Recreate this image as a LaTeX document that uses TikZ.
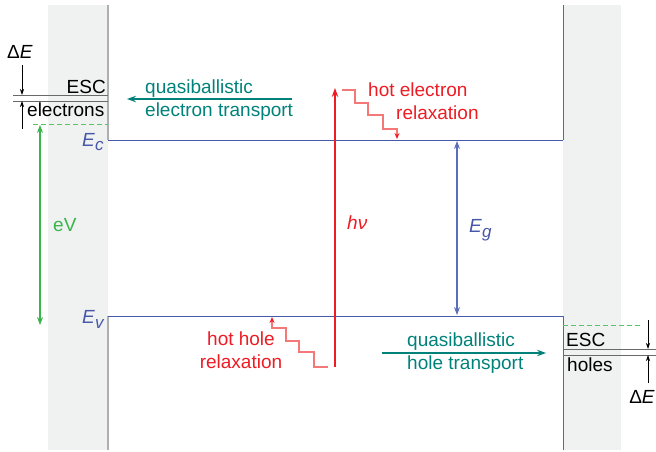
\documentclass[tikz,border=0pt]{standalone}
\usepackage{fontspec}
\setmainfont{Liberation Sans}
\usetikzlibrary{arrows.meta}
\definecolor{contactgray}{RGB}{240,242,242}
\definecolor{edgegray}{RGB}{175,175,175}
\definecolor{edgedark}{RGB}{105,105,105}
\definecolor{bandblue}{RGB}{70,88,168}
\definecolor{egblue}{RGB}{90,110,185}
\definecolor{hotred}{RGB}{237,28,36}
\definecolor{stairred}{RGB}{244,120,120}
\definecolor{transteal}{RGB}{0,130,122}
\definecolor{evgreen}{RGB}{57,181,74}
\definecolor{dashgreen}{RGB}{90,195,105}
\definecolor{escgray}{RGB}{105,105,105}

\newcommand{\lvl}[2]{\textit{#1}\raisebox{-5pt}{\fontsize{17}{17}\selectfont\textit{#2}}}

\begin{document}
\begin{tikzpicture}[x=1pt,y=-1pt,
  contact/.style={fill=contactgray,draw=none},
  edge/.style={edgegray,line width=1.4pt},
  band/.style={bandblue,line width=1pt},
  esc/.style={escgray,line width=0.9pt},
  txt/.style={inner sep=0pt,font=\fontsize{19}{23}\selectfont},
  parr/.style={-{Stealth[length=9pt,width=6.5pt]},line width=1.1pt},
  dparr/.style={{Stealth[length=8pt,width=6pt]}-{Stealth[length=8pt,width=6pt]},line width=1.1pt},
  darr/.style={-{Stealth[length=6pt,width=4pt]},line width=0.7pt,black},
  stair/.style={stairred,line width=1.3pt,-{Stealth[length=6pt,width=5pt,color=hotred]}},
  fermi/.style={dashgreen,line width=1pt,dash pattern=on 5pt off 3pt}
]
\clip (0,0) rectangle (656,452);
% contacts
\fill[contact] (48,5) rectangle (108,450);
\fill[contact] (563,5) rectangle (621,450);
\coordinate (topL) at (108,5);
\coordinate (botL) at (108,450);
\coordinate (topR) at (563,5);
\coordinate (botR) at (563,450);
% band edges
\coordinate (ecL) at (108,140);
\coordinate (ecR) at (563,140);
\coordinate (evL) at (108,316);
\coordinate (evR) at (563,316);
\draw[edge] (topL) -- (ecL);
\draw[edge] (evL) -- (botL);
\draw[edgedark,line width=1pt] (topR) -- (ecR);
\draw[edgedark,line width=1pt] (evR) -- (botR);
\draw[band] (ecL) -- (ecR);
\draw[band] (evL) -- (evR);
\node[txt,bandblue,anchor=base west] (ec) at (82,146) {\lvl{E}{c}};
\node[txt,bandblue,anchor=base west] (ev) at (82,323) {\lvl{E}{v}};
% band gap
\coordinate (egtop) at (457,141);
\coordinate (egbot) at (457,315);
\draw[dparr,egblue] (egtop) -- (egbot);
\node[txt,bandblue,anchor=base west] (eg) at (469,232) {\lvl{E}{g}};
% ESC levels, left
\coordinate (escLa) at (13,95);
\coordinate (escLb) at (13,101);
\draw[esc] (escLa) -- (escLa -| ecL);
\draw[esc] (escLb) -- (escLb -| ecL);
\node[txt,anchor=base east] (escl) at (106,93) {ESC};
\node[txt,anchor=base west] (elec) at (27,117) {electrons};
\node[txt,anchor=base west] (del) at (7,59) {Δ\textit{E}};
\coordinate (dLa) at (22,65);
\coordinate (dLb) at (22,129);
\draw[darr] (dLa) -- (escLa -| dLa);
\draw[darr] (dLb) -- (escLb -| dLb);
% ESC levels, right
\coordinate (escRa) at (563,349);
\coordinate (escRb) at (563,355);
\draw[esc] (escRa) -- ++(93,0);
\draw[esc] (escRb) -- ++(93,0);
\node[txt,anchor=base west] (escr) at (566,346) {ESC};
\node[txt,anchor=base west] (holes) at (567,371) {holes};
\node[txt,anchor=base east] (der) at (655,403) {Δ\textit{E}};
\coordinate (dRa) at (648,320);
\coordinate (dRb) at (648,383);
\draw[darr] (dRa) -- (escRa -| dRa);
\draw[darr] (dRb) -- (escRb -| dRb);
% quasi Fermi levels
\coordinate (fnL) at (33,124);
\coordinate (fpR) at (640,325);
\draw[fermi] (fnL) -- (fnL -| ecL);
\draw[fermi] (evR |- fpR) -- (fpR);
\coordinate (evtop) at (40,125);
\coordinate (evbot) at (40,325);
\draw[dparr,evgreen] (evtop) -- (evbot);
\node[txt,evgreen,anchor=base west] (evlbl) at (53,231) {eV};
% photon
\coordinate (hvbot) at (335,367);
\coordinate (hvtop) at (335,88);
\draw[parr,hotred] (hvbot) -- (hvtop);
\node[txt,hotred,anchor=base west] (hv) at (347,229) {\textit{hν}};
% relaxation
\coordinate (hes) at (342,90);
\draw[stair] (hes) -| ++(13,13) -| ++(13,12) -| ++(15,14) -| ++(14,10);
\node[txt,hotred,anchor=west,align=left] (hel) at (368,101.5) {hot electron\\\hspace*{28pt}relaxation};
\coordinate (hhs) at (328,367);
\draw[stair] (hhs) -| ++(-14,-15) -| ++(-15,-11) -| ++(-13,-13) -| ++(-14,-11);
\node[txt,hotred,align=center] (hhl) at (241,350.5) {hot hole\\relaxation};
% transport
\coordinate (ets) at (292,99);
\coordinate (ete) at (127,99);
\draw[parr,transteal] (ets) -- (ete);
\node[txt,transteal,anchor=west,align=left] (etl) at (145,99.6) {quasiballistic\\electron transport};
\coordinate (hts) at (382,353);
\coordinate (hte) at (546,353);
\draw[parr,transteal] (hts) -- (hte);
\node[txt,transteal,anchor=west,align=left] (htl) at (407,353) {quasiballistic\\hole transport};
\end{tikzpicture}
\end{document}
